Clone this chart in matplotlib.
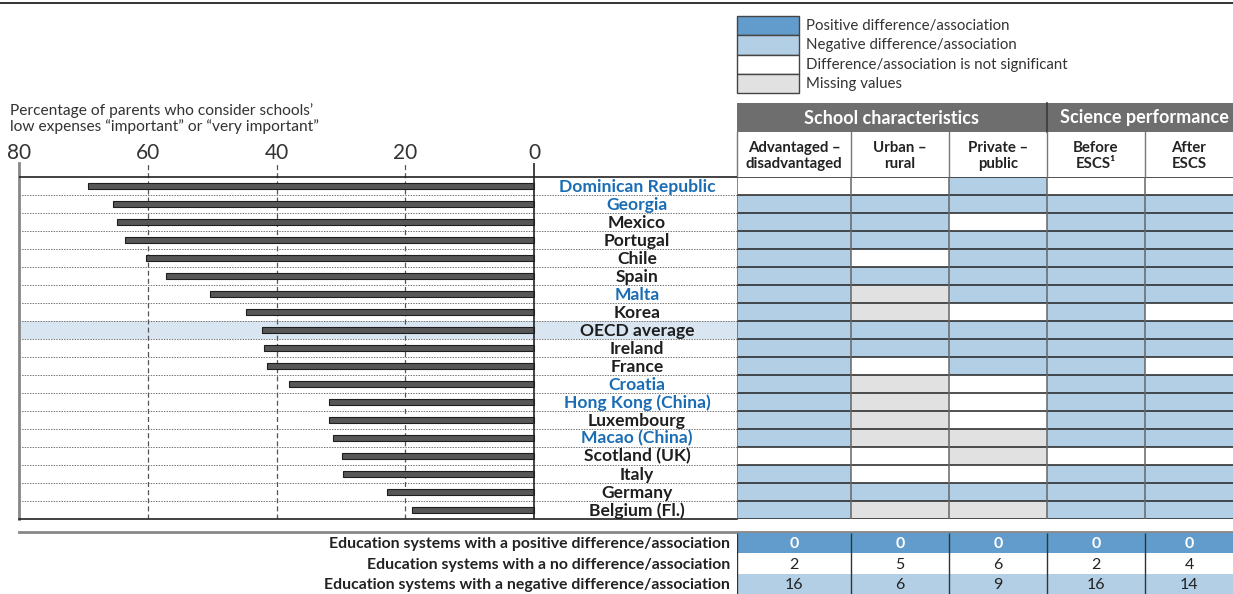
import numpy as np
import matplotlib.pyplot as plt
from matplotlib.colors import ListedColormap
from matplotlib.patches import Rectangle

plt.rcParams['font.family'] = ['Lato', 'DejaVu Sans']

# data
countries = ['Dominican Republic', 'Georgia', 'Mexico', 'Portugal', 'Chile', 'Spain',
             'Malta', 'Korea', 'OECD average', 'Ireland', 'France', 'Croatia',
             'Hong Kong (China)', 'Luxembourg', 'Macao (China)', 'Scotland (UK)',
             'Italy', 'Germany', 'Belgium (Fl.)']
partners = ['Dominican Republic', 'Georgia', 'Malta', 'Croatia',
            'Hong Kong (China)', 'Macao (China)']
expenses = [69.3, 65.4, 64.8, 63.6, 60.3, 57.1, 50.4, 44.7, 42.2, 42.0, 41.4,
            38.1, 31.9, 31.8, 31.2, 29.8, 29.7, 22.8, 18.9]

# cell codes: 0 positive, 1 negative, 2 not significant, 3 missing
adv_disadv = [2, 1, 1, 1, 1, 1, 1, 1, 1, 1, 1, 1, 1, 1, 1, 2, 1, 1, 1]
urban_rural = [2, 1, 1, 1, 2, 1, 3, 3, 1, 1, 2, 3, 3, 3, 3, 2, 2, 1, 3]
private_public = [1, 1, 2, 1, 1, 1, 1, 2, 1, 1, 1, 2, 2, 2, 3, 3, 2, 1, 3]
before_escs = [2, 1, 1, 1, 1, 1, 1, 1, 1, 1, 1, 1, 1, 1, 1, 2, 1, 1, 1]
after_escs = [2, 1, 1, 1, 1, 1, 1, 2, 1, 1, 2, 1, 1, 1, 1, 2, 1, 1, 1]

col_labels = ['Advantaged –\ndisadvantaged', 'Urban –\nrural', 'Private –\npublic',
              'Before\nESCS¹', 'After\nESCS']
group_labels = ['School characteristics', 'Science performance']
legend_labels = ['Positive difference/association', 'Negative difference/association',
                 'Difference/association is not significant', 'Missing values']

summary_labels = ['Education systems with a positive difference/association',
                  'Education systems with a no difference/association',
                  'Education systems with a negative difference/association']
summary_pos = [0, 0, 0, 0, 0]
summary_none = [2, 5, 6, 2, 4]
summary_neg = [16, 6, 9, 16, 14]

c_pos = '#629ccc'
c_neg = '#b3cfe5'
c_ns = '#ffffff'
c_miss = '#e1e1e1'
cell_cmap = ListedColormap([c_pos, c_neg, c_ns, c_miss])
blue_txt = '#1a6db5'

W, H = 1233, 594


def box(x0, y0, x1, y1):
    return [x0 / W, 1 - y1 / H, (x1 - x0) / W, (y1 - y0) / H]


fig = plt.figure(figsize=(W / 100, H / 100), dpi=100)

# overlay in pixel coordinates for the decorations
ov = fig.add_axes([0, 0, 1, 1])
ov.set_xlim(0, W)
ov.set_ylim(H, 0)
ov.axis('off')

ov.plot([0, W], [3, 3], color='#222222', lw=1.3)

# legend
for i, lab in enumerate(legend_labels):
    y0 = 16 + i * 19.3
    ov.add_patch(Rectangle((737, y0), 62, 19.3, facecolor=cell_cmap(i),
                           edgecolor='#444444', lw=1))
    ov.text(806, y0 + 10, lab, va='center', ha='left', fontsize=10.8, color='#333333')

# title of the bar part
ov.text(10, 103, "Percentage of parents who consider schools’\n"
        "low expenses “important” or “very important”",
        ha='left', va='top', fontsize=11.2, color='#333333', linespacing=1.12)

# table headers
col_edges = [737, 851, 949, 1047, 1145, 1233]
ov.add_patch(Rectangle((737, 103), 310, 29, facecolor='#6e6e6e', edgecolor='none'))
ov.add_patch(Rectangle((1047, 103), 186, 29, facecolor='#6e6e6e', edgecolor='none'))
ov.plot([1047, 1047], [103, 132], color='#3a3a3a', lw=1.2)
ov.text((737 + 1047) / 2, 118, group_labels[0], color='white', fontweight='bold',
        fontsize=13, ha='center', va='center')
ov.text((1047 + 1233) / 2 + 4, 118, group_labels[1], color='white', fontweight='bold',
        fontsize=13, ha='center', va='center')
for j, lab in enumerate(col_labels):
    ov.text((col_edges[j] + col_edges[j + 1]) / 2, 156, lab, ha='center', va='center',
            fontweight='bold', fontsize=10.8, color='#222222', linespacing=1.15)
for x in col_edges[1:-1]:
    ov.plot([x, x], [132, 177], color='#777777', lw=1)
ov.plot([737, 737], [132, 177], color='#777777', lw=1)

# bar chart
n = len(countries)
rows = np.arange(n)
px_per_unit = (534 - 19) / 80
ax = fig.add_axes(box(19, 163, 737, 519))
ax.patch.set_alpha(0)
ax.set_xlim(80, -(737 - 534) / px_per_unit)
ax.set_ylim(n - 0.5, -0.5 - 14 / 18)

oecd = countries.index('OECD average')
ax.axhspan(oecd - 0.5, oecd + 0.5, color='#d9e6f2', zorder=0, lw=0)
for k in range(1, n):
    ax.axhline(k - 0.5, color='#777777', lw=0.7, ls=(0, (1.5, 1.2)), zorder=1)
ax.axhline(-0.5, color='#222222', lw=1.2, zorder=3)
ax.vlines([60, 40, 20], n - 0.5, -0.5 - 14 / 18, color='#555555', lw=0.9,
          linestyles=(0, (4, 2.5)), zorder=1)
ax.vlines([0], n - 0.5, -0.5 - 14 / 18, color='#222222', lw=1.2, zorder=4)

ax.barh(rows + 0.06, expenses, height=0.36, color='#c8c8c8', edgecolor='none', zorder=2)
ax.barh(rows, expenses, height=0.36, color='#575757', edgecolor='#1e1e1e', lw=0.8, zorder=3)

for i, name in enumerate(countries):
    ax.text(-16, i + 0.03, name, ha='center', va='center', fontweight='bold', fontsize=12.6,
            color=blue_txt if name in partners else '#1e1e1e')

ax.xaxis.tick_top()
ax.set_xticks([80, 60, 40, 20, 0])
ax.set_xticklabels(['80', '60', '40', '20', '0'], fontsize=15, color='#333333')
ax.tick_params(axis='x', length=0, pad=0)
ax.set_yticks([])
for s in ['top', 'right']:
    ax.spines[s].set_visible(False)
ax.spines['left'].set_color('#888888')
ax.spines['left'].set_linewidth(2)
ax.spines['bottom'].set_color('#222222')
ax.spines['bottom'].set_linewidth(1.2)

# significance table
cells = np.array([adv_disadv, urban_rural, private_public, before_escs, after_escs]).T
tb = fig.add_axes(box(737, 177, 1233, 519))
tb.pcolormesh(col_edges, np.arange(n + 1) - 0.5, cells, cmap=cell_cmap, vmin=-0.5, vmax=3.5)
tb.set_xlim(737, 1233)
tb.set_ylim(n - 0.5, -0.5)
tb.hlines(np.arange(n + 1) - 0.5, 737, 1233, color='#222222', lw=1.1)
tb.vlines(col_edges[:-1], -0.5, n - 0.5, color='#666666', lw=1.1)
tb.axis('off')

# summary rows
ov.plot([19, W], [532, 532], color='#888888', lw=2)
summary = np.array([summary_pos, summary_none, summary_neg])
sm = fig.add_axes(box(737, 533, 1233, 594))
sm.pcolormesh(col_edges, [0, 1, 2, 3], np.array([[0] * 5, [2] * 5, [1] * 5]),
              cmap=cell_cmap, vmin=-0.5, vmax=3.5)
sm.set_xlim(737, 1233)
sm.set_ylim(3, 0)
sm.vlines(col_edges[:-1], 0, 3, color='#333333', lw=1)
sm.axis('off')
for r in range(3):
    for j in range(5):
        sm.text((col_edges[j] + col_edges[j + 1]) / 2, r + 0.55, str(summary[r, j]),
                ha='center', va='center', fontsize=11.5,
                color='white' if r == 0 else '#222222',
                fontweight='bold' if r == 0 else 'normal')
    ov.text(730, 544 + r * 20.5, summary_labels[r], ha='right', va='center',
            fontweight='bold', fontsize=11.4, color='#222222')

fig.savefig('out.png', dpi=100)
